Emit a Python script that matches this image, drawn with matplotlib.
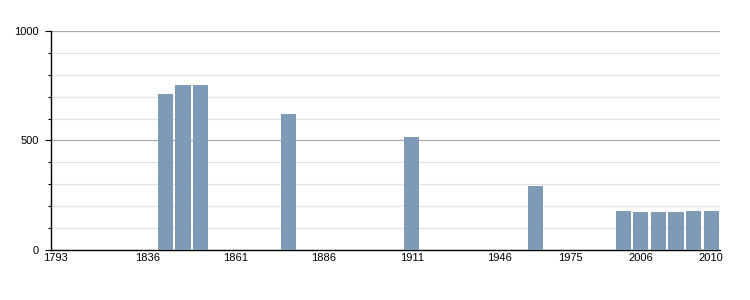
import matplotlib
matplotlib.use("Agg")
import matplotlib.pyplot as plt
from matplotlib.transforms import ScaledTranslation

# census years (one slot each) and population, None = no data
years = [1793, 1800, 1806, 1821, 1831, 1836, 1841, 1846, 1851, 1856,
         1861, 1866, 1872, 1876, 1881, 1886, 1891, 1896, 1901, 1906,
         1911, 1921, 1926, 1931, 1936, 1946, 1954, 1962, 1968, 1975,
         1982, 1990, 1999, 2006, 2007, 2008, 2009, 2010]
population = {1841: 712, 1846: 753, 1851: 753, 1876: 621, 1911: 516,
              1962: 294, 1999: 179, 2006: 175, 2007: 174, 2008: 174,
              2009: 178, 2010: 178}
label_years = [1793, 1836, 1861, 1886, 1911, 1946, 1975, 2006, 2010]

plt.rcParams['font.family'] = ['Liberation Sans', 'DejaVu Sans']

fig = plt.figure(figsize=(7.5, 3), dpi=100)
ax = fig.add_axes([0.068, 0.1667, 0.892, 0.73])

xs = [i for i, y in enumerate(years) if y in population]
vals = [population[years[i]] for i in xs]
ax.bar(xs, vals, width=0.86, color='#7f9ab4', zorder=3)

ax.set_xlim(-0.5, len(years) - 0.5)
ax.set_ylim(0, 1000)

ax.set_yticks([0, 500, 1000])
ax.set_yticks(range(100, 1000, 100), minor=True)
ax.yaxis.grid(True, which='major', color='#aaaaaa', linewidth=0.9, zorder=0)
ax.yaxis.grid(True, which='minor', color='#e3e3e3', linewidth=0.9, zorder=0)
ax.tick_params(axis='y', which='major', length=4, width=0.8, labelsize=8, pad=5)
ax.tick_params(axis='y', which='minor', length=2.2, width=0.8)

ax.set_xticks([years.index(y) for y in label_years])
ax.set_xticklabels([str(y) for y in label_years])
ax.tick_params(axis='x', length=0, labelsize=8, pad=2)
# first label sits a bit to the left, against the axis
first = ax.get_xticklabels()[0]
first.set_transform(first.get_transform() + ScaledTranslation(-3 / 72, 0, fig.dpi_scale_trans))

for s in ['top', 'right']:
    ax.spines[s].set_visible(False)
ax.spines['left'].set_linewidth(1)
ax.spines['bottom'].set_linewidth(1)

fig.savefig('out.png', dpi=100)
